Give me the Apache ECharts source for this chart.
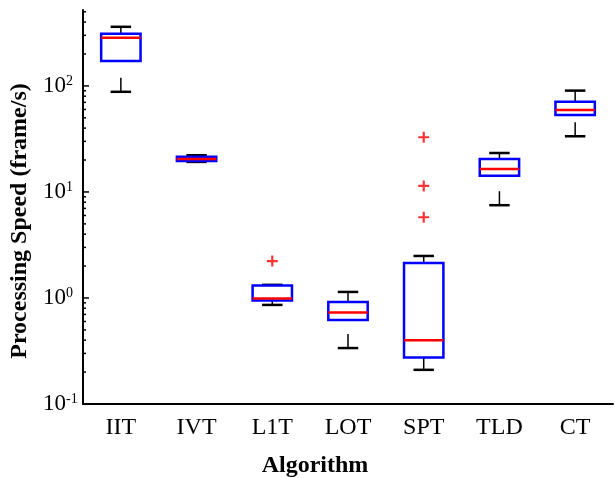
<!DOCTYPE html>
<html>
<head>
<meta charset="utf-8">
<script src="https://cdn.jsdelivr.net/npm/echarts@6/dist/echarts.min.js"></script>
<style>
  html, body { margin: 0; padding: 0; background: #fff; }
</style>
</head>
<body>
<div id="chart" style="width:615px;height:478px;"></div>
<script>
// algorithm names on the x axis
var categories = ['IIT', 'IVT', 'L1T', 'LOT', 'SPT', 'TLD', 'CT'];
// box statistics per algorithm (frame/s)
var whiskerLow = [88, 19.2, 0.86, 0.337, 0.21, 7.5, 33.5];
var quart1 = [172, 19.6, 0.945, 0.62, 0.275, 14.2, 53.2];
var median = [284, 20.5, 0.99, 0.73, 0.40, 16.5, 59.4];
var quart3 = [310, 21.5, 1.31, 0.915, 2.14, 20.5, 71];
var whiskerHigh = [361, 22.2, 1.33, 1.14, 2.49, 23.3, 90.3];
// outliers: [category index, value]
var outliers = [[2, 2.23], [4, 32.8], [4, 11.4], [4, 5.77]];
// tick positions on the log axis
var majorTicks = [0.1, 1, 10, 100];
var minorTicks = [0.2, 0.3, 0.4, 0.5, 0.6, 0.7, 0.8, 0.9,
  2, 3, 4, 5, 6, 7, 8, 9,
  20, 30, 40, 50, 60, 70, 80, 90,
  200, 300, 400, 500];

var font = 'Liberation Serif';

var boxData = categories.map(function (c, i) {
  return [i, whiskerLow[i], quart1[i], median[i], quart3[i], whiskerHigh[i]];
});

var chart = echarts.init(document.getElementById('chart'));

function renderBox(params, api) {
  var idx = api.value(0);
  var lo = api.coord([idx, api.value(1)]);
  var q1 = api.coord([idx, api.value(2)]);
  var md = api.coord([idx, api.value(3)]);
  var q3 = api.coord([idx, api.value(4)]);
  var hi = api.coord([idx, api.value(5)]);
  var band = api.size([1, 0])[0];
  var bw = band * 0.52;
  var cw = band * 0.27;
  var x = lo[0];
  var black = { stroke: '#000', lineWidth: 2.5 };
  var stem = { stroke: '#000', lineWidth: 1.5, lineDash: [14, 300] };
  return {
    type: 'group',
    children: [
      // whisker stems, drawn from the cap towards the box
      { type: 'line', shape: { x1: x, y1: hi[1], x2: x, y2: q3[1] }, style: stem },
      { type: 'line', shape: { x1: x, y1: lo[1], x2: x, y2: q1[1] }, style: stem },
      // caps
      { type: 'line', shape: { x1: x - cw / 2, y1: hi[1], x2: x + cw / 2, y2: hi[1] }, style: black },
      { type: 'line', shape: { x1: x - cw / 2, y1: lo[1], x2: x + cw / 2, y2: lo[1] }, style: black },
      // box
      { type: 'rect', shape: { x: x - bw / 2, y: q3[1], width: bw, height: q1[1] - q3[1] },
        style: { fill: 'none', stroke: '#0000ff', lineWidth: 2.5 } },
      // median
      { type: 'line', shape: { x1: x - bw / 2, y1: md[1], x2: x + bw / 2, y2: md[1] },
        style: { stroke: '#ff0000', lineWidth: 2.5 } }
    ]
  };
}

function renderTick(params, api) {
  var v = api.value(0);
  var len = api.value(1);
  var p = api.coord([0, v]);
  var x0 = params.coordSys.x;
  return {
    type: 'line',
    shape: { x1: x0, y1: p[1], x2: x0 + len, y2: p[1] },
    style: { stroke: '#000', lineWidth: 1.5 }
  };
}

var tickData = majorTicks.map(function (v) { return [v, 6]; })
  .concat(minorTicks.map(function (v) { return [v, 3]; }));

var option = {
  animation: false,
  backgroundColor: '#fff',
  grid: { left: 83, right: 2, top: 10, bottom: 74, outerBoundsMode: 'none', containLabel: false },
  xAxis: {
    type: 'category',
    data: categories,
    name: 'Algorithm',
    nameLocation: 'middle',
    nameGap: 50,
    nameTextStyle: { fontFamily: font, fontSize: 24, fontWeight: 'bold', color: '#000', padding: [0, 66, 0, 0] },
    axisLine: { lineStyle: { color: '#000', width: 2 } },
    axisTick: { show: false },
    axisLabel: { fontFamily: font, fontSize: 24, color: '#000', margin: 12 },
    splitLine: { show: false }
  },
  yAxis: {
    type: 'log',
    logBase: 10,
    min: 0.1,
    max: 520,
    name: 'Processing Speed (frame/s)',
    nameLocation: 'middle',
    nameGap: 43,
    nameTextStyle: { fontFamily: font, fontSize: 24, fontWeight: 'bold', color: '#000', padding: [0, 28, 0, 0] },
    axisLine: { show: true, lineStyle: { color: '#000', width: 2 } },
    axisTick: { show: false },
    splitLine: { show: false },
    axisLabel: {
      margin: 40,
      align: 'left',
      formatter: function (v) {
        var e = Math.round(Math.log10(v));
        if (Math.abs(Math.log10(v) - e) > 1e-6) return '';
        return '{b|10}{s|' + e + '}';
      },
      rich: {
        b: { fontFamily: font, fontSize: 23, color: '#000' },
        s: { fontFamily: font, fontSize: 14, color: '#000', padding: [0, 0, 10, 0] }
      }
    }
  },
  series: [
    {
      type: 'custom',
      renderItem: renderTick,
      data: tickData,
      encode: { y: 0 },
      silent: true,
      clip: false
    },
    {
      type: 'custom',
      renderItem: renderBox,
      data: boxData,
      encode: { x: 0, y: [1, 2, 3, 4, 5] },
      clip: false
    },
    {
      type: 'scatter',
      data: outliers,
      symbol: 'path://M4,0h2v10h-2z M0,4h10v2h-10z',
      symbolSize: 11,
      itemStyle: { color: '#ff0000' }
    }
  ]
};

chart.setOption(option);
</script>
</body>
</html>
